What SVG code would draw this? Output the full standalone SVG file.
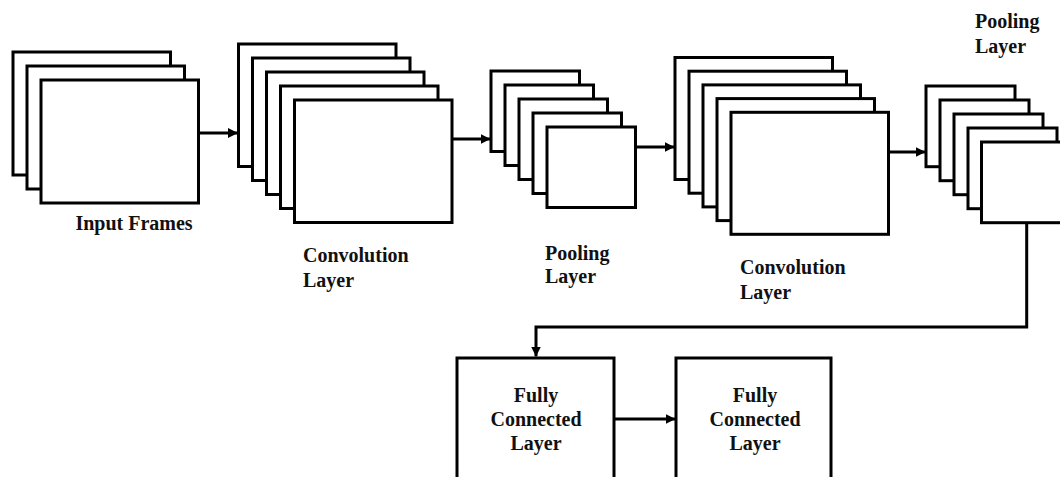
<svg xmlns="http://www.w3.org/2000/svg" width="1060" height="477" viewBox="0 0 1060 477">
  <style>
    .frame { fill: #ffffff; stroke: #000000; stroke-width: 3; }
    .conn { fill: none; stroke: #000000; stroke-width: 3; }
    .lbl { font-family: "Liberation Serif", "Times New Roman", serif; font-weight: bold; font-size: 20px; fill: #111111; }
    .mid { text-anchor: middle; }
  </style>
  <defs>
    <marker id="arr" markerUnits="userSpaceOnUse" markerWidth="12" markerHeight="10" refX="10" refY="5" orient="auto">
      <path d="M0,0 L10,5 L0,10 Z" fill="#000000"/>
    </marker>
  </defs>
  <rect x="0" y="0" width="1060" height="477" fill="#ffffff"/>

  <g id="input-frames">
    <rect class="frame" x="13" y="52" width="157.5" height="123"/>
    <rect class="frame" x="27" y="66" width="157.5" height="123"/>
    <rect class="frame" x="41" y="80" width="157.5" height="123"/>
    <text class="lbl mid" x="134" y="230">Input Frames</text>
  </g>

  <g id="conv1">
    <rect class="frame" x="238.5" y="44" width="157.5" height="122.5"/>
    <rect class="frame" x="252.5" y="58" width="157.5" height="122.5"/>
    <rect class="frame" x="266.5" y="72" width="157.5" height="122.5"/>
    <rect class="frame" x="280.5" y="86" width="157.5" height="122.5"/>
    <rect class="frame" x="294.5" y="100" width="157.5" height="122.5"/>
    <text class="lbl" x="303" y="262">Convolution</text>
    <text class="lbl" x="303" y="287">Layer</text>
  </g>

  <g id="pool1">
    <rect class="frame" x="491" y="71" width="88.5" height="80.5"/>
    <rect class="frame" x="505" y="85" width="88.5" height="80.5"/>
    <rect class="frame" x="519" y="99" width="88.5" height="80.5"/>
    <rect class="frame" x="533" y="113" width="88.5" height="80.5"/>
    <rect class="frame" x="547" y="127" width="88.5" height="80.5"/>
    <text class="lbl" x="545" y="260">Pooling</text>
    <text class="lbl" x="545" y="283">Layer</text>
  </g>

  <g id="conv2">
    <rect class="frame" x="675" y="57.5" width="157.5" height="122"/>
    <rect class="frame" x="689" y="71.2" width="157.5" height="122"/>
    <rect class="frame" x="703" y="84.9" width="157.5" height="122"/>
    <rect class="frame" x="717" y="98.6" width="157.5" height="122"/>
    <rect class="frame" x="731" y="112.3" width="157.5" height="122"/>
    <text class="lbl" x="740" y="274">Convolution</text>
    <text class="lbl" x="740" y="299">Layer</text>
  </g>

  <g id="pool2">
    <rect class="frame" x="926" y="86" width="89" height="80.7"/>
    <rect class="frame" x="940" y="100" width="89" height="80.7"/>
    <rect class="frame" x="954" y="114" width="89" height="80.7"/>
    <rect class="frame" x="968" y="128" width="89" height="80.7"/>
    <rect class="frame" x="981.5" y="142" width="89" height="80.7"/>
    <text class="lbl" x="975" y="28">Pooling</text>
    <text class="lbl" x="975" y="53">Layer</text>
  </g>

  <g id="fc1">
    <rect class="frame" x="457" y="358" width="157" height="130"/>
    <text class="lbl mid" x="536" y="402">Fully</text>
    <text class="lbl mid" x="536" y="426">Connected</text>
    <text class="lbl mid" x="536" y="450">Layer</text>
  </g>

  <g id="fc2">
    <rect class="frame" x="676" y="358" width="155" height="130"/>
    <text class="lbl mid" x="755" y="402">Fully</text>
    <text class="lbl mid" x="755" y="426">Connected</text>
    <text class="lbl mid" x="755" y="450">Layer</text>
  </g>

  <g id="connectors">
    <line class="conn" x1="198.5" y1="133" x2="238" y2="133" marker-end="url(#arr)"/>
    <line class="conn" x1="452" y1="139" x2="490.5" y2="139" marker-end="url(#arr)"/>
    <line class="conn" x1="635.5" y1="147" x2="674.5" y2="147" marker-end="url(#arr)"/>
    <line class="conn" x1="888.5" y1="152" x2="925.5" y2="152" marker-end="url(#arr)"/>
    <polyline class="conn" points="1026.7,222.7 1026.7,327 536,327 536,356.5" marker-end="url(#arr)"/>
    <line class="conn" x1="614" y1="419" x2="675.5" y2="419" marker-end="url(#arr)"/>
  </g>
</svg>
